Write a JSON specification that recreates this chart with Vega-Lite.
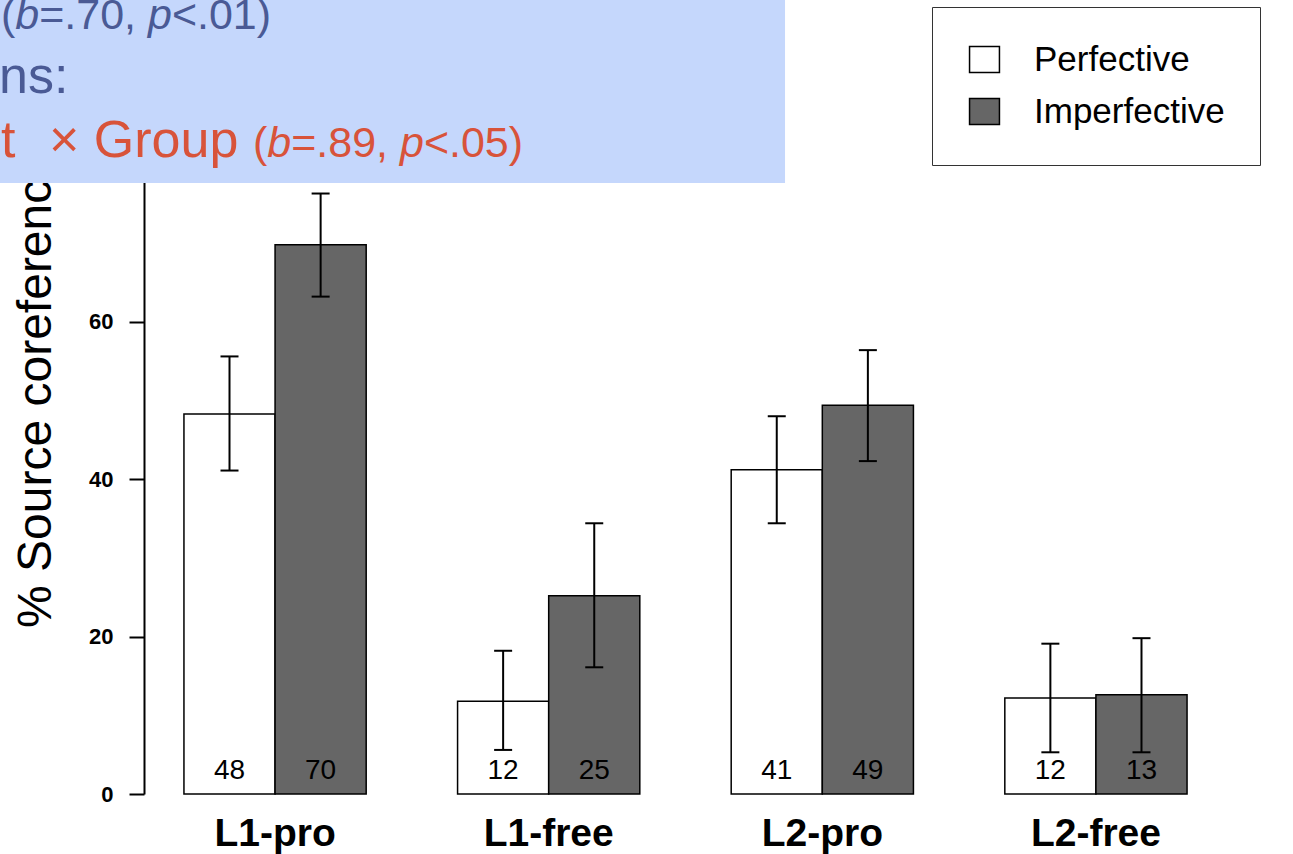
{
  "$schema": "https://vega.github.io/schema/vega-lite/v6.json",
  "width": 1083,
  "height": 787,
  "autosize": {"type": "none"},
  "padding": {"left": 144, "top": 7, "right": 66, "bottom": 60},
  "background": "white",
  "config": {
    "view": {"stroke": null},
    "font": "Liberation Sans",
    "axis": {"grid": false},
    "style": {"guide-label": {"fontSize": 22, "fontWeight": "bold", "fill": "black"}},
    "axisY": {"domainColor": "black", "domainWidth": 2, "tickColor": "black", "tickWidth": 2, "tickSize": 15, "labelFont": "Liberation Sans", "labelFontWeight": "bold", "labelFontSize": 22, "labelColor": "black", "labelPadding": 16, "labelFlush": false, "labelOverlap": false, "titleFont": "Liberation Sans", "titleFontSize": 48, "titleFontWeight": "normal", "titleColor": "black"}
  },
  "data": {
    "values": [
      {"group": "L1-pro", "condition": "Perfective", "pct": 48.3, "lo": 41.1, "hi": 55.6},
      {"group": "L1-pro", "condition": "Imperfective", "pct": 69.8, "lo": 63.2, "hi": 76.3},
      {"group": "L1-free", "condition": "Perfective", "pct": 11.8, "lo": 5.6, "hi": 18.2},
      {"group": "L1-free", "condition": "Imperfective", "pct": 25.2, "lo": 16.1, "hi": 34.4},
      {"group": "L2-pro", "condition": "Perfective", "pct": 41.2, "lo": 34.4, "hi": 48.0},
      {"group": "L2-pro", "condition": "Imperfective", "pct": 49.4, "lo": 42.3, "hi": 56.4},
      {"group": "L2-free", "condition": "Perfective", "pct": 12.2, "lo": 5.3, "hi": 19.1},
      {"group": "L2-free", "condition": "Imperfective", "pct": 12.6, "lo": 5.3, "hi": 19.8}
    ]
  },
  "layer": [
    {
      "encoding": {
        "x": {
          "field": "group", "type": "nominal",
          "sort": ["L1-pro", "L1-free", "L2-pro", "L2-free"],
          "scale": {"paddingInner": 0.334, "paddingOuter": 0.146},
          "axis": {"title": null, "domain": false, "ticks": false, "tickSize": 0, "labelFont": "Liberation Sans", "labelFontWeight": "bold", "labelFontSize": 39, "labelColor": "black", "labelPadding": 51, "labelBaseline": "alphabetic", "labelAngle": 0}
        },
        "xOffset": {
          "field": "condition", "type": "nominal",
          "sort": ["Perfective", "Imperfective"],
          "scale": {"paddingInner": 0, "paddingOuter": 0}
        }
      },
      "layer": [
        {
          "mark": {"type": "bar", "stroke": "black", "strokeWidth": 1.5},
          "encoding": {
            "y": {
              "field": "pct", "type": "quantitative",
              "scale": {"domain": [0, 100], "nice": false},
              "axis": {"title": "% Source coreference", "values": [0, 20, 40, 60, 80], "grid": false, "domainColor": "black", "domainWidth": 2, "tickColor": "black", "tickWidth": 2, "tickSize": 15, "labelFont": "Liberation Sans", "labelFontWeight": "bold", "labelFontSize": 22, "labelColor": "black", "labelPadding": 16, "labelFlush": false, "labelOverlap": false, "titleFont": "Liberation Sans", "titleFontSize": 48, "titleFontWeight": "normal", "titleColor": "black", "titleX": -94, "titleY": 383, "titleAngle": 270, "titleAlign": "center", "titleBaseline": "alphabetic"}
            },
            "fill": {
              "field": "condition", "type": "nominal",
              "scale": {"domain": ["Perfective", "Imperfective"], "range": ["#ffffff", "#666666"]},
              "legend": {"title": null, "orient": "none", "legendX": 788, "legendY": 0, "padding": 35, "strokeColor": "#333333", "fillColor": "white", "symbolType": "M-1.15,-1H1.15V1H-1.15Z", "symbolSize": 676, "symbolStrokeColor": "black", "symbolStrokeWidth": 1.5, "labelFont": "Liberation Sans", "labelFontSize": 35, "labelFontWeight": "normal", "labelColor": "black", "labelOffset": 32, "labelLimit": 0, "rowPadding": 16}
            }
          }
        },
        {
          "mark": {"type": "rule", "strokeWidth": 2, "color": "black"},
          "encoding": {
            "y": {"field": "lo", "type": "quantitative", "scale": {"domain": [0, 100], "nice": false}},
            "y2": {"field": "hi"}
          }
        },
        {
          "mark": {"type": "tick", "size": 18, "thickness": 2, "color": "black", "opacity": 1},
          "encoding": {
            "y": {"field": "lo", "type": "quantitative", "scale": {"domain": [0, 100], "nice": false}}
          }
        },
        {
          "mark": {"type": "tick", "size": 18, "thickness": 2, "color": "black", "opacity": 1},
          "encoding": {
            "y": {"field": "hi", "type": "quantitative", "scale": {"domain": [0, 100], "nice": false}}
          }
        },
        {
          "mark": {"type": "text", "fontSize": 28, "baseline": "alphabetic", "align": "center", "dy": -15, "color": "black", "font": "Liberation Sans"},
          "encoding": {
            "y": {"datum": 0, "type": "quantitative", "scale": {"domain": [0, 100], "nice": false}},
            "text": {"field": "pct", "type": "quantitative", "format": ".0f"}
          }
        }
      ]
    },
    {
      "data": {"values": [{}]},
      "layer": [
        {
          "mark": {"type": "rect", "fill": "#C5D7FC", "clip": false},
          "encoding": {
            "x": {"datum": -13.76, "type": "quantitative", "scale": {"domain": [0, 100], "nice": false, "zero": false}, "axis": null},
            "x2": {"datum": 59.19},
            "y": {"datum": 102, "type": "quantitative", "scale": {"domain": [0, 100], "nice": false}},
            "y2": {"datum": 77.64}
          }
        },
        {
          "mark": {"type": "text", "align": "left", "baseline": "alphabetic", "fontSize": 43, "color": "#4A5A95", "font": "Liberation Sans", "text": "("},
          "encoding": {
            "x": {"datum": -13.204, "type": "quantitative", "scale": {"domain": [0, 100], "nice": false, "zero": false}, "axis": null},
            "y": {"datum": 97.2, "type": "quantitative", "scale": {"domain": [0, 100], "nice": false}}
          }
        },
        {
          "mark": {"type": "text", "align": "left", "baseline": "alphabetic", "fontSize": 43, "fontStyle": "italic", "color": "#4A5A95", "font": "Liberation Sans", "text": "b"},
          "encoding": {
            "x": {"datum": -11.884, "type": "quantitative", "scale": {"domain": [0, 100], "nice": false, "zero": false}, "axis": null},
            "y": {"datum": 97.2, "type": "quantitative", "scale": {"domain": [0, 100], "nice": false}}
          }
        },
        {
          "mark": {"type": "text", "align": "left", "baseline": "alphabetic", "fontSize": 43, "color": "#4A5A95", "font": "Liberation Sans", "text": "=.70,"},
          "encoding": {
            "x": {"datum": -9.677, "type": "quantitative", "scale": {"domain": [0, 100], "nice": false, "zero": false}, "axis": null},
            "y": {"datum": 97.2, "type": "quantitative", "scale": {"domain": [0, 100], "nice": false}}
          }
        },
        {
          "mark": {"type": "text", "align": "left", "baseline": "alphabetic", "fontSize": 43, "fontStyle": "italic", "color": "#4A5A95", "font": "Liberation Sans", "text": "p"},
          "encoding": {
            "x": {"datum": 0.369, "type": "quantitative", "scale": {"domain": [0, 100], "nice": false, "zero": false}, "axis": null},
            "y": {"datum": 97.2, "type": "quantitative", "scale": {"domain": [0, 100], "nice": false}}
          }
        },
        {
          "mark": {"type": "text", "align": "left", "baseline": "alphabetic", "fontSize": 43, "color": "#4A5A95", "font": "Liberation Sans", "text": "<.01)"},
          "encoding": {
            "x": {"datum": 2.576, "type": "quantitative", "scale": {"domain": [0, 100], "nice": false, "zero": false}, "axis": null},
            "y": {"datum": 97.2, "type": "quantitative", "scale": {"domain": [0, 100], "nice": false}}
          }
        },
        {
          "mark": {"type": "text", "align": "left", "baseline": "alphabetic", "fontSize": 52, "color": "#4A5A95", "font": "Liberation Sans", "text": "ns:"},
          "encoding": {
            "x": {"datum": -13.389, "type": "quantitative", "scale": {"domain": [0, 100], "nice": false, "zero": false}, "axis": null},
            "y": {"datum": 89.07, "type": "quantitative", "scale": {"domain": [0, 100], "nice": false}}
          }
        },
        {
          "mark": {"type": "text", "align": "left", "baseline": "alphabetic", "fontSize": 52, "color": "#D8533A", "font": "Liberation Sans", "text": "t"},
          "encoding": {
            "x": {"datum": -13.204, "type": "quantitative", "scale": {"domain": [0, 100], "nice": false, "zero": false}, "axis": null},
            "y": {"datum": 80.94, "type": "quantitative", "scale": {"domain": [0, 100], "nice": false}}
          }
        },
        {
          "mark": {"type": "text", "align": "left", "baseline": "alphabetic", "fontSize": 52, "color": "#D8533A", "font": "Liberation Sans", "text": "× Group"},
          "encoding": {
            "x": {"datum": -8.772, "type": "quantitative", "scale": {"domain": [0, 100], "nice": false, "zero": false}, "axis": null},
            "y": {"datum": 80.94, "type": "quantitative", "scale": {"domain": [0, 100], "nice": false}}
          }
        },
        {
          "mark": {"type": "text", "align": "left", "baseline": "alphabetic", "fontSize": 43, "color": "#D8533A", "font": "Liberation Sans", "text": "("},
          "encoding": {
            "x": {"datum": 10.065, "type": "quantitative", "scale": {"domain": [0, 100], "nice": false, "zero": false}, "axis": null},
            "y": {"datum": 80.94, "type": "quantitative", "scale": {"domain": [0, 100], "nice": false}}
          }
        },
        {
          "mark": {"type": "text", "align": "left", "baseline": "alphabetic", "fontSize": 43, "fontStyle": "italic", "color": "#D8533A", "font": "Liberation Sans", "text": "b"},
          "encoding": {
            "x": {"datum": 11.385, "type": "quantitative", "scale": {"domain": [0, 100], "nice": false, "zero": false}, "axis": null},
            "y": {"datum": 80.94, "type": "quantitative", "scale": {"domain": [0, 100], "nice": false}}
          }
        },
        {
          "mark": {"type": "text", "align": "left", "baseline": "alphabetic", "fontSize": 43, "color": "#D8533A", "font": "Liberation Sans", "text": "=.89,"},
          "encoding": {
            "x": {"datum": 13.592, "type": "quantitative", "scale": {"domain": [0, 100], "nice": false, "zero": false}, "axis": null},
            "y": {"datum": 80.94, "type": "quantitative", "scale": {"domain": [0, 100], "nice": false}}
          }
        },
        {
          "mark": {"type": "text", "align": "left", "baseline": "alphabetic", "fontSize": 43, "fontStyle": "italic", "color": "#D8533A", "font": "Liberation Sans", "text": "p"},
          "encoding": {
            "x": {"datum": 23.638, "type": "quantitative", "scale": {"domain": [0, 100], "nice": false, "zero": false}, "axis": null},
            "y": {"datum": 80.94, "type": "quantitative", "scale": {"domain": [0, 100], "nice": false}}
          }
        },
        {
          "mark": {"type": "text", "align": "left", "baseline": "alphabetic", "fontSize": 43, "color": "#D8533A", "font": "Liberation Sans", "text": "<.05)"},
          "encoding": {
            "x": {"datum": 25.845, "type": "quantitative", "scale": {"domain": [0, 100], "nice": false, "zero": false}, "axis": null},
            "y": {"datum": 80.94, "type": "quantitative", "scale": {"domain": [0, 100], "nice": false}}
          }
        }
      ]
    }
  ],
  "resolve": {"scale": {"x": "independent"}}
}
